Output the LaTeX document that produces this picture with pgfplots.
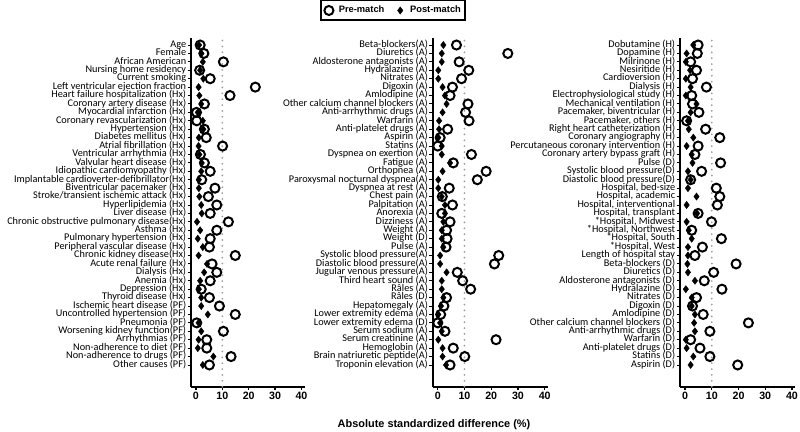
\documentclass[border=0pt]{standalone}
\usepackage{pgfplots}
\pgfplotsset{compat=1.18}
\usepackage{pgfplotstable}
\usepackage{fontspec}
\setmainfont{Carlito}
\newfontfamily\arialf{Liberation Sans}

\pgfplotstableread{
i pre post
1 1.6 1.2
2 3.0 2.1
3 10.4 2.6
4 1.4 1.6
5 5.4 2.8
6 22.5 1.0
7 12.9 1.3
8 3.2 2.0
9 0.2 0.7
10 0.3 2.6
11 3.2 2.8
12 3.9 1.1
13 10.1 1.0
14 1.7 1.3
15 3.2 2.2
16 5.4 2.0
17 2.2 1.1
18 7.2 1.1
19 4.7 1.3
20 7.9 2.0
21 5.4 2.2
22 12.3 0.4
23 7.9 1.6
24 5.4 0.7
25 5.1 2.6
26 14.9 1.0
27 6.1 4.2
28 7.9 3.1
29 5.4 1.6
30 2.0 1.1
31 5.1 2.0
32 8.9 2.0
33 14.9 4.5
34 0.3 1.0
35 10.4 2.0
36 4.1 1.0
37 4.1 0.7
38 13.3 6.6
39 5.1 2.6
}\tabA

\pgfplotstableread{
i pre post
1 7.0 2.1
2 26.2 1.5
3 8.0 1.5
4 11.6 0.2
5 8.9 0.2
6 5.5 1.8
7 4.6 2.7
8 11.3 3.3
9 10.4 1.8
10 11.7 0.5
11 3.7 0.5
12 0.9 0.2
13 0.0 1.5
14 12.6 1.5
15 5.8 4.6
16 18.1 1.8
17 14.8 0.2
18 4.3 0.2
19 1.7 1.5
20 5.5 2.7
21 1.5 2.7
22 4.6 2.1
23 3.3 1.5
24 3.5 1.5
25 3.1 2.1
26 22.8 0.9
27 21.2 0.9
28 7.3 3.3
29 9.3 1.5
30 12.3 1.5
31 3.3 2.1
32 2.3 1.2
33 1.1 0.2
34 0.0 0.9
35 2.7 1.5
36 21.8 0.2
37 5.8 1.8
38 10.1 1.8
39 4.6 3.1
}\tabB

\pgfplotstableread{
i pre post
1 4.9 3.1
2 4.6 0.6
3 2.1 0.3
4 4.3 1.9
5 2.8 0.3
6 8.0 2.1
7 2.5 0.3
8 2.8 4.3
9 5.2 2.1
10 0.6 1.1
11 7.7 1.4
12 13.0 3.1
13 4.9 0.6
14 3.7 2.5
15 13.3 2.8
16 6.2 1.1
17 2.1 2.1
18 11.7 1.1
19 13.0 4.3
20 12.1 0.6
21 4.9 4.5
22 9.9 0.6
23 2.5 1.4
24 13.6 2.5
25 6.5 1.1
26 3.7 1.1
27 19.1 0.9
28 10.7 1.1
29 7.2 3.7
30 13.8 0.3
31 4.3 2.5
32 2.8 2.5
33 6.8 3.7
34 23.7 3.4
35 9.3 3.7
36 2.1 0.3
37 5.6 0.6
38 9.3 3.1
39 19.7 2.1
}\tabC

\pgfplotsset{
  panel/.style={
    scale only axis, width=86.25pt, height=261.3pt,
    anchor=south west,
    xmin=-1.8, xmax=41.2, ymin=-1.58, ymax=39.8,
    axis x line*=bottom, axis y line*=left,
    axis line style={line width=1.5pt, -},
    tick align=outside,
    xtick={0,10,20,30,40},
    ytick={39,38,...,1},
    major tick length=2.6pt,
    x tick style={line width=1pt, black},
    y tick style={line width=0.7pt, black},
    /pgf/number format/assume math mode=true,
    xticklabel style={font=\arialf\bfseries\fontsize{8}{9}\selectfont, inner sep=1pt},
    yticklabel style={font=\fontsize{7.7}{7.7}\selectfont, inner sep=1pt, text height=4.6pt, text depth=1.2pt},
    clip=false,
  },
  pre/.style={only marks, mark=o, mark size=3.4pt, line width=1.5pt, black},
  post/.style={only marks, mark=diamond*, mark size=2.7pt, black, mark options={line width=0.3pt}},
  ref/.style={gray!75, line width=1.5pt, line cap=round, dash pattern=on 0pt off 4.4pt},
}

\begin{document}
\begin{tikzpicture}
\useasboundingbox (0,0) rectangle (600pt,324pt);

\begin{axis}[panel, at={(143.4pt,33.98pt)}, width=85.1pt,
  yticklabels={Age,Female,African American,Nursing home residency,Current smoking,Left ventricular ejection fraction,Heart failure hospitalization (Hx),Coronary artery disease (Hx),Myocardial infarction (Hx),Coronary revascularization (Hx),Hypertension (Hx),Diabetes mellitus (Hx),Atrial fibrillation (Hx),Ventricular arrhythmia (Hx),Valvular heart disease (Hx),Idiopathic cardiomyopathy (Hx),Implantable cardioverter-defibrillator(Hx),Biventricular pacemaker (Hx),Stroke/transient ischemic attack (Hx),Hyperlipidemia (Hx),Liver disease (Hx),Chronic obstructive pulmonary disease(Hx),Asthma (Hx),Pulmonary hypertension (Hx),Peripheral vascular disease (Hx),Chronic kidney disease(Hx),Acute renal failure (Hx),Dialysis (Hx),Anemia (Hx),Depression (Hx),Thyroid disease (Hx),Ischemic heart disease (PF),Uncontrolled hypertension (PF),Pneumonia (PF),Worsening kidney function(PF),Arrhythmias (PF),Non-adherence to diet (PF),Non-adherence to drugs (PF),Other causes (PF)}]
\addplot[ref] coordinates {(10,-1.58) (10,39.8)};
\addplot[pre] table[x=pre, y expr=40-\thisrow{i}] {\tabA};
\addplot[post] table[x=post, y expr=40-\thisrow{i}] {\tabA};
\end{axis}

\begin{axis}[panel, at={(324.7pt,33.98pt)},
  yticklabels={Beta-blockers(A),Diuretics (A),Aldosterone antagonists (A),Hydralazine (A),Nitrates (A),Digoxin (A),Amlodipine (A),Other calcium channel blockers (A),Anti-arrhythmic drugs (A),Warfarin (A),Anti-platelet drugs (A),Aspirin (A),Statins (A),Dyspnea on exertion (A),Fatigue (A),Orthopnea (A),Paroxysmal nocturnal dyspnea(A),Dyspnea at rest (A),Chest pain (A),Palpitation (A),Anorexia (A),Dizziness (A),Weight (A),Weight (D),Pulse (A),Systolic blood pressure(A),Diastolic blood pressure(A),Jugular venous pressure(A),Third heart sound (A),Râles (A),Râles (D),Hepatomegaly (A),Lower extremity edema (A),Lower extremity edema (D),Serum sodium (A),Serum creatinine (A),Hemoglobin (A),Brain natriuretic peptide(A),Troponin elevation (A)},
  legend columns=2,
  legend style={at={(-0.347,1.0798)}, anchor=center, draw=black, line width=1.1pt,
    font=\arialf\bfseries\fontsize{7}{8}\selectfont, inner xsep=1pt, inner ysep=2pt,
    /tikz/every even column/.append style={column sep=5pt}},
  legend image code/.code={\path[draw=none, fill=none] (0cm,-0.1cm) rectangle (0.36cm,0.1cm); \draw[#1] plot coordinates {(0.17cm,0cm)};},
]
\addplot[ref, forget plot] coordinates {(10,-1.58) (10,39.8)};
\addplot[pre] table[x=pre, y expr=40-\thisrow{i}] {\tabB};
\addlegendentry{Pre-match}
\addplot[post] table[x=post, y expr=40-\thisrow{i}] {\tabB};
\addlegendentry{Post-match}
\end{axis}

\begin{axis}[panel, at={(510.15pt,33.98pt)},
  yticklabels={Dobutamine (H),Dopamine (H),Milrinone (H),Nesiritide (H),Cardioversion (H),Dialysis (H),Electrophysiological study (H),Mechanical ventilation (H),{Pacemaker, biventricular (H)},{Pacemaker, others (H)},Right heart catheterization (H),Coronary angiography (H),Percutaneous coronary intervention (H),Coronary artery bypass graft (H),Pulse (D),Systolic blood pressure(D),Diastolic blood pressure(D),{Hospital, bed-size},{Hospital, academic},{Hospital, interventional},{Hospital, transplant},{*Hospital, Midwest},{*Hospital, Northwest},{*Hospital, South},{*Hospital, West},Length of hospital stay,Beta-blockers (D),Diuretics (D),Aldosterone antagonists (D),Hydralazine (D),Nitrates (D),Digoxin (D),Amlodipine (D),Other calcium channel blockers (D),Anti-arrhythmic drugs (D),Warfarin (D),Anti-platelet drugs (D),Statins (D),Aspirin (D)}]
\addplot[ref] coordinates {(10,-1.58) (10,39.8)};
\addplot[pre] table[x=pre, y expr=40-\thisrow{i}] {\tabC};
\addplot[post] table[x=post, y expr=40-\thisrow{i}] {\tabC};
\end{axis}

\node[font=\arialf\bfseries\fontsize{8.2}{9}\selectfont] at (325.5pt,5.25pt) {Absolute standardized difference (\%)};
\end{tikzpicture}
\end{document}
